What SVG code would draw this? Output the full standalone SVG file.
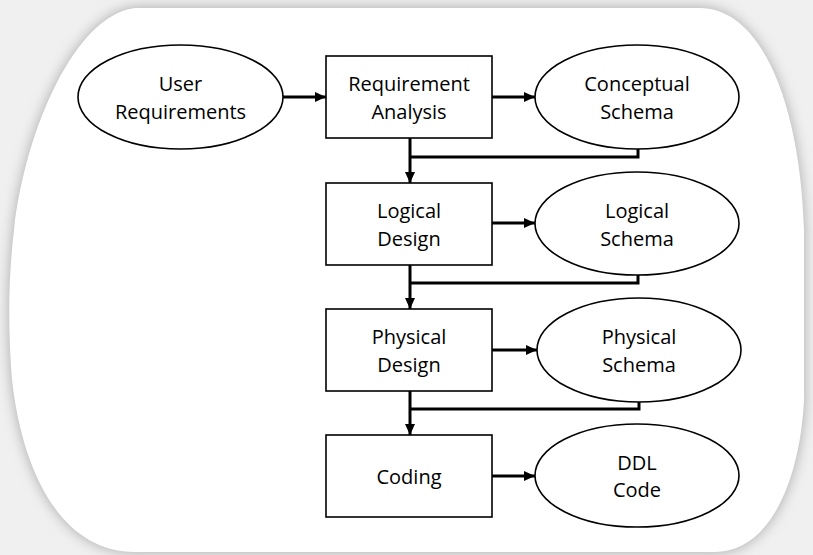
<svg xmlns="http://www.w3.org/2000/svg" width="813" height="555" viewBox="0 0 813 555">
<defs>
<filter id="blur" x="-10%" y="-10%" width="120%" height="120%"><feGaussianBlur stdDeviation="7"/></filter>
<marker id="arr" markerUnits="userSpaceOnUse" markerWidth="11" markerHeight="10" refX="11" refY="5" orient="auto"><path d="M0,0 L11,5 L0,10 Z" fill="#000"/></marker>
</defs>
<style>
.box{fill:#fff;stroke:#000;stroke-width:1.6}
.t{font-family:"Open Sans","Liberation Sans",sans-serif;font-size:20px;fill:#000;text-anchor:middle}
.c{fill:none;stroke:#000;stroke-width:3}
</style>
<rect x="0" y="0" width="813" height="555" fill="#f0f0f0"/>
<path d="M135 8 L700 8 C760 8 800 100 804 230 L804 400 C800 480 770 552 715 552 L135 552 C60 552 22 470 12 380 C8 330 8 280 14 230 C25 130 75 15 135 8 Z" fill="#a8a8a8" filter="url(#blur)"/>
<path d="M135 8 L700 8 C760 8 800 100 804 230 L804 400 C800 480 770 552 715 552 L135 552 C60 552 22 470 12 380 C8 330 8 280 14 230 C25 130 75 15 135 8 Z" fill="#fff"/>
<g id="connectors">
<line class="c" x1="283" y1="97" x2="326" y2="97" marker-end="url(#arr)"/>
<line class="c" x1="492" y1="97" x2="535" y2="97" marker-end="url(#arr)"/>
<line class="c" x1="410" y1="138" x2="410" y2="183" marker-end="url(#arr)"/>
<polyline class="c" points="638,149 638,157 410,157"/>
<line class="c" x1="492" y1="223" x2="535" y2="223" marker-end="url(#arr)"/>
<line class="c" x1="410" y1="265" x2="410" y2="309" marker-end="url(#arr)"/>
<polyline class="c" points="638,275 638,283 410,283"/>
<line class="c" x1="492" y1="350" x2="537" y2="350" marker-end="url(#arr)"/>
<line class="c" x1="410" y1="391" x2="410" y2="435" marker-end="url(#arr)"/>
<polyline class="c" points="639,402 639,409 410,409"/>
<line class="c" x1="492" y1="476" x2="535" y2="476" marker-end="url(#arr)"/>
</g>
<g id="user-requirements"><ellipse class="box" cx="180.5" cy="97" rx="102.5" ry="52"/><text class="t" x="180.5" y="91">User</text><text class="t" x="180.5" y="119">Requirements</text></g>
<g id="requirement-analysis"><rect class="box" x="326" y="56" width="166" height="82"/><text class="t" x="409" y="91">Requirement</text><text class="t" x="409" y="119">Analysis</text></g>
<g id="conceptual-schema"><ellipse class="box" cx="637" cy="97" rx="102" ry="52"/><text class="t" x="637" y="91">Conceptual</text><text class="t" x="637" y="119">Schema</text></g>
<g id="logical-design"><rect class="box" x="326" y="183" width="166" height="82"/><text class="t" x="409" y="218">Logical</text><text class="t" x="409" y="246">Design</text></g>
<g id="logical-schema"><ellipse class="box" cx="637" cy="223.5" rx="102" ry="51.5"/><text class="t" x="637" y="218">Logical</text><text class="t" x="637" y="246">Schema</text></g>
<g id="physical-design"><rect class="box" x="326" y="309" width="166" height="82"/><text class="t" x="409" y="344">Physical</text><text class="t" x="409" y="372">Design</text></g>
<g id="physical-schema"><ellipse class="box" cx="639" cy="350" rx="102" ry="52"/><text class="t" x="639" y="344">Physical</text><text class="t" x="639" y="372">Schema</text></g>
<g id="coding"><rect class="box" x="326" y="435" width="166" height="82"/><text class="t" x="409" y="484">Coding</text></g>
<g id="ddl-code"><ellipse class="box" cx="637" cy="475.5" rx="102" ry="51.5"/><text class="t" x="637" y="470">DDL</text><text class="t" x="637" y="497">Code</text></g>
</svg>
